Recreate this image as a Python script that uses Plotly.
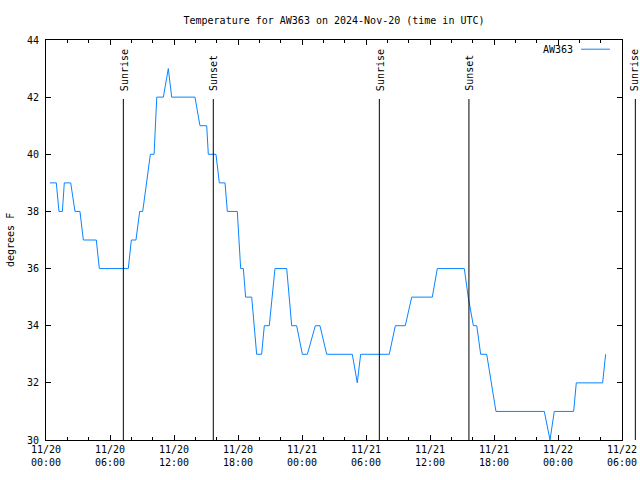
import plotly.graph_objects as go
import pandas as pd

# ---- data ----
times = [
    "2024-11-20 00:22", "2024-11-20 00:58", "2024-11-20 01:13", "2024-11-20 01:32",
    "2024-11-20 01:43", "2024-11-20 02:19", "2024-11-20 02:43", "2024-11-20 03:11",
    "2024-11-20 03:30", "2024-11-20 04:43", "2024-11-20 05:00", "2024-11-20 07:43",
    "2024-11-20 08:00", "2024-11-20 08:26", "2024-11-20 08:47", "2024-11-20 09:04",
    "2024-11-20 09:47", "2024-11-20 10:08", "2024-11-20 10:23", "2024-11-20 11:00",
    "2024-11-20 11:28", "2024-11-20 11:47", "2024-11-20 13:58", "2024-11-20 14:26",
    "2024-11-20 15:04", "2024-11-20 15:13", "2024-11-20 15:56", "2024-11-20 16:15",
    "2024-11-20 16:47", "2024-11-20 17:00", "2024-11-20 17:56", "2024-11-20 18:15",
    "2024-11-20 18:30", "2024-11-20 18:43", "2024-11-20 19:17", "2024-11-20 19:45",
    "2024-11-20 20:13", "2024-11-20 20:28", "2024-11-20 20:56", "2024-11-20 21:28",
    "2024-11-20 22:34", "2024-11-20 23:02", "2024-11-20 23:30", "2024-11-21 00:02",
    "2024-11-21 00:30", "2024-11-21 01:15", "2024-11-21 01:41", "2024-11-21 02:19",
    "2024-11-21 04:43", "2024-11-21 05:11", "2024-11-21 05:30", "2024-11-21 08:11",
    "2024-11-21 08:45", "2024-11-21 09:41", "2024-11-21 10:17", "2024-11-21 12:13",
    "2024-11-21 12:41", "2024-11-21 15:13", "2024-11-21 15:35", "2024-11-21 16:04",
    "2024-11-21 16:23", "2024-11-21 16:45", "2024-11-21 17:19", "2024-11-21 18:11",
    "2024-11-21 22:43", "2024-11-21 23:15", "2024-11-21 23:39", "2024-11-22 01:28",
    "2024-11-22 01:43", "2024-11-22 04:11", "2024-11-22 04:28",
]
temps = [
    39, 39, 38, 38,
    39, 39, 38, 38,
    37, 37, 36, 36,
    37, 37, 38, 38,
    40, 40, 42, 42,
    43, 42, 42, 41,
    41, 40, 40, 39,
    39, 38, 38, 36,
    36, 35, 35, 33,
    33, 34, 34, 36,
    36, 34, 34, 33,
    33, 34, 34, 33,
    33, 32, 33, 33,
    34, 34, 35, 35,
    36, 36, 35, 34,
    34, 33, 33, 31,
    31, 30, 31, 31,
    32, 32, 33,
]
series_name = "AW363"

sun_events = ["Sunrise", "Sunset", "Sunrise", "Sunset", "Sunrise"]
sun_times = ["2024-11-20 07:15", "2024-11-20 15:41", "2024-11-21 07:15",
             "2024-11-21 15:39", "2024-11-22 07:15"]

x_start = "2024-11-20 00:00"
x_end = "2024-11-22 06:00"
y_min, y_max = 30, 44

title_text = "Temperature for AW363 on 2024-Nov-20 (time in UTC)"
y_title = "degrees F"

# ---- figure ----
FONT = "DejaVu Sans Mono"
LINE_COLOR = "#0a84ff"

fig = go.Figure()
fig.add_trace(go.Scatter(
    x=pd.to_datetime(times), y=temps, mode="lines", name=series_name,
    line=dict(color=LINE_COLOR, width=1), showlegend=False,
))

t0 = pd.Timestamp(x_start)
t1 = pd.Timestamp(x_end)
span = (t1 - t0).total_seconds()

line_top = 0.8525   # top of the vertical marker lines (paper)
label_bottom = 0.868

for name, ts in zip(sun_events, sun_times):
    frac = (pd.Timestamp(ts) - t0).total_seconds() / span
    fig.add_shape(type="line", xref="paper", yref="paper",
                  x0=frac, x1=frac, y0=0, y1=line_top,
                  line=dict(color="black", width=1))
    fig.add_annotation(xref="paper", yref="paper", x=frac, y=label_bottom,
                       text=name, textangle=-90, showarrow=False,
                       xanchor="center", yanchor="bottom",
                       xshift=1 if frac <= 1 else -1,
                       font=dict(family=FONT, size=10, color="black"))

# legend (gnuplot style: text then line sample)
fig.add_annotation(xref="paper", yref="paper", x=0.919, y=0.977,
                   text=series_name, showarrow=False, xanchor="right",
                   yanchor="middle",
                   font=dict(family=FONT, size=10, color="black"))
fig.add_shape(type="line", xref="paper", yref="paper",
              x0=0.929, x1=0.979, y0=0.977, y1=0.977,
              line=dict(color=LINE_COLOR, width=1))

# y axis title
fig.add_annotation(xref="paper", yref="paper", x=-0.0625, y=0.5,
                   text=y_title, textangle=-90, showarrow=False,
                   xanchor="center", yanchor="middle",
                   font=dict(family=FONT, size=10, color="black"))

fig.update_layout(
    width=640, height=480,
    margin=dict(l=46, r=18, t=40, b=40, autoexpand=False),
    paper_bgcolor="white", plot_bgcolor="white",
    font=dict(family=FONT, size=10, color="black"),
    title=dict(text=title_text, x=0.5, xref="paper", xanchor="center",
               y=1 - 20 / 480, yref="container", yanchor="middle",
               font=dict(family=FONT, size=10, color="black")),
    showlegend=False,
)
fig.update_xaxes(
    range=[t0, t1], type="date", dtick=6 * 3600 * 1000, tick0=x_start,
    tickformat="%m/%d<br>%H:%M", ticks="inside", ticklen=5, tickcolor="black",
    showline=True, linecolor="black", linewidth=1, mirror="ticks",
    showgrid=False, zeroline=False, automargin=False,
    minor=dict(dtick=2 * 3600 * 1000, ticks="inside", ticklen=3,
               tickcolor="black", showgrid=False),
    tickfont=dict(family=FONT, size=10, color="black"),
)
fig.update_yaxes(
    range=[y_min, y_max], dtick=2, tick0=0,
    ticks="inside", ticklen=5, tickcolor="black",
    showline=True, linecolor="black", linewidth=1, mirror="ticks",
    showgrid=False, zeroline=False, ticklabelstandoff=4, automargin=False,
    tickfont=dict(family=FONT, size=10, color="black"),
)

fig.write_html("out.html")
